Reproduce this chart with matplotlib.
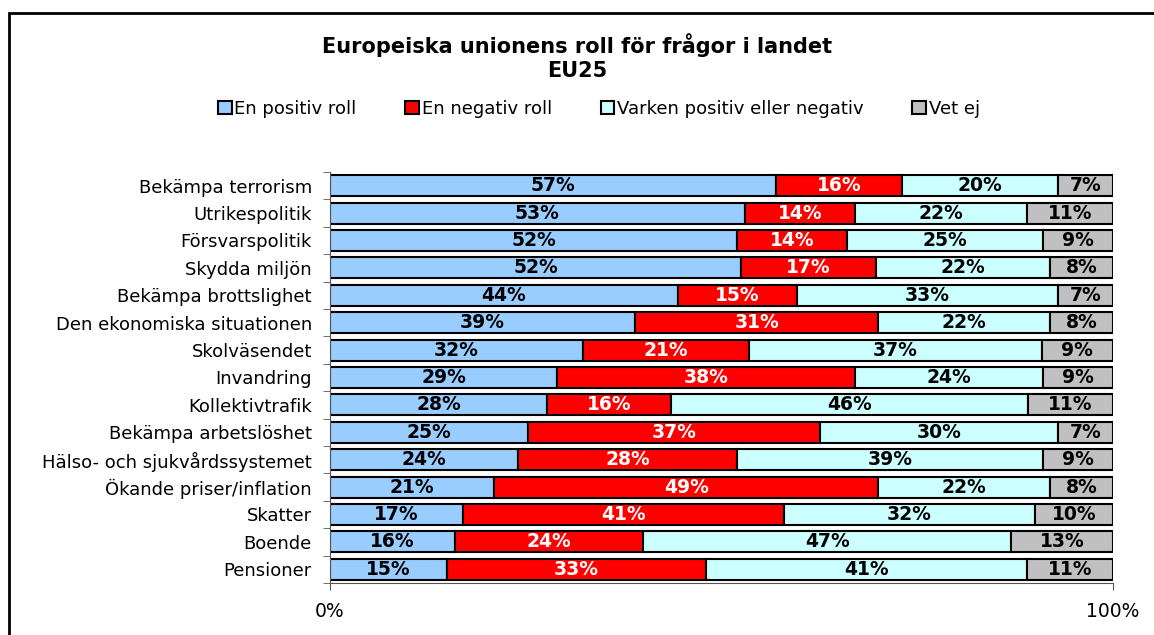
import matplotlib.pyplot as plt
from matplotlib.patches import Rectangle
import numpy as np

plt.rcParams['font.family'] = ['DejaVu Sans']

categories = ['Bekämpa terrorism', 'Utrikespolitik', 'Försvarspolitik', 'Skydda miljön',
              'Bekämpa brottslighet', 'Den ekonomiska situationen', 'Skolväsendet',
              'Invandring', 'Kollektivtrafik', 'Bekämpa arbetslöshet',
              'Hälso- och sjukvårdssystemet', 'Ökande priser/inflation', 'Skatter',
              'Boende', 'Pensioner']
positive = [57, 53, 52, 52, 44, 39, 32, 29, 28, 25, 24, 21, 17, 16, 15]
negative = [16, 14, 14, 17, 15, 31, 21, 38, 16, 37, 28, 49, 41, 24, 33]
neither = [20, 22, 25, 22, 33, 22, 37, 24, 46, 30, 39, 22, 32, 47, 41]
dont_know = [7, 11, 9, 8, 7, 8, 9, 9, 11, 7, 9, 8, 10, 13, 11]

series_names = ['En positiv roll', 'En negativ roll', 'Varken positiv eller negativ', 'Vet ej']
colors = ['#99CCFF', '#FF0000', '#CCFFFF', '#C0C0C0']
text_colors = ['black', 'white', 'black', 'black']

data = np.array([positive, negative, neither, dont_know], dtype=float)
shares = data / data.sum(axis=0)

fig = plt.figure(figsize=(11.54, 6.35), dpi=100)
ax = fig.add_axes([330 / 1154, 1 - 583 / 635, (1113 - 330) / 1154, (583 - 172) / 635])

y = np.arange(len(categories))
left = np.zeros(len(categories))
for i in range(4):
    bars = ax.barh(y, shares[i], left=left, height=0.76, color=colors[i],
                   edgecolor='black', linewidth=1.5, label=series_names[i])
    for j, b in enumerate(bars):
        ax.text(left[j] + shares[i][j] / 2, y[j], f'{int(data[i][j])}%',
                ha='center', va='center', fontsize=13.5, fontweight='bold',
                color=text_colors[i])
    left += shares[i]

ax.set_ylim(len(categories) - 0.5, -0.5)
ax.set_xlim(0, 1)
ax.set_yticks(y)
ax.set_yticklabels(categories, fontsize=13)
ax.set_yticks(np.arange(len(categories) + 1) - 0.5, minor=True)
ax.tick_params(axis='y', which='major', length=0, pad=13)
ax.tick_params(axis='y', which='minor', length=5, color='#555555')
ax.set_xticks([0, 1])
ax.set_xticklabels(['0%', '100%'], fontsize=13.5)
ax.tick_params(axis='x', length=5, pad=9, color='#555555')
for s in ['top', 'right']:
    ax.spines[s].set_visible(False)
ax.spines['left'].set_color('#555555')
ax.spines['bottom'].set_color('#555555')

fig.text(0.5, 1 - 45 / 635, 'Europeiska unionens roll för frågor i landet', ha='center',
         va='center', fontsize=15, fontweight='bold')
fig.text(0.5, 1 - 71 / 635, 'EU25', ha='center', va='center', fontsize=15, fontweight='bold')

fig.legend(loc='center', bbox_to_anchor=(599 / 1154, 1 - 109 / 635), ncol=4, frameon=False,
           fontsize=13, handlelength=0.75, handleheight=0.75, handletextpad=0.15,
           columnspacing=2.7)
for h in fig.legends[0].legend_handles:
    h.set_linewidth(1.5)

fig.patches.append(Rectangle((9 / 1154, -0.1), 1.2, 1.1 - 13 / 635, transform=fig.transFigure,
                             fill=False, edgecolor='black', linewidth=2))

fig.savefig('out.png', dpi=100)
